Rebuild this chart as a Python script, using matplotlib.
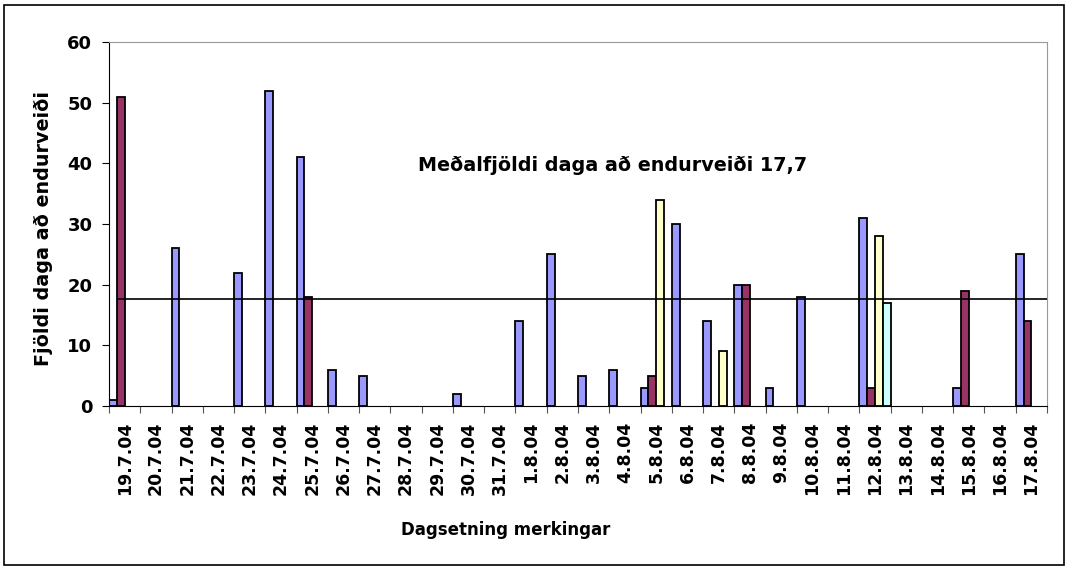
import numpy as np
import matplotlib
matplotlib.use("Agg")
import matplotlib.pyplot as plt
from matplotlib.patches import Rectangle

dates = ["19.7.04", "20.7.04", "21.7.04", "22.7.04", "23.7.04", "24.7.04",
         "25.7.04", "26.7.04", "27.7.04", "28.7.04", "29.7.04", "30.7.04",
         "31.7.04", "1.8.04", "2.8.04", "3.8.04", "4.8.04", "5.8.04",
         "6.8.04", "7.8.04", "8.8.04", "9.8.04", "10.8.04", "11.8.04",
         "12.8.04", "13.8.04", "14.8.04", "15.8.04", "16.8.04", "17.8.04"]

# four recapture series per tagging date (0 = no bar)
series1 = [1, 0, 26, 0, 22, 52, 41, 6, 5, 0, 0, 2, 0, 14, 25, 5, 6, 3,
           30, 14, 20, 3, 18, 0, 31, 0, 0, 3, 0, 25]
series2 = [51, 0, 0, 0, 0, 0, 18, 0, 0, 0, 0, 0, 0, 0, 0, 0, 0, 5,
           0, 0, 20, 0, 0, 0, 3, 0, 0, 19, 0, 14]
series3 = [0, 0, 0, 0, 0, 0, 0, 0, 0, 0, 0, 0, 0, 0, 0, 0, 0, 34,
           0, 9, 0, 0, 0, 0, 28, 0, 0, 0, 0, 0]
series4 = [0, 0, 0, 0, 0, 0, 0, 0, 0, 0, 0, 0, 0, 0, 0, 0, 0, 0,
           0, 0, 0, 0, 0, 0, 17, 0, 0, 0, 0, 0]

mean_days = 17.7

plt.rcParams['font.family'] = ['DejaVu Sans']

fig = plt.figure(figsize=(10.69, 5.69), dpi=100)
ax = fig.add_axes([109 / 1069, 1 - 406 / 569, 938 / 1069, 364 / 569])

x = np.arange(len(dates))
w = 0.25
colors = ["#9999FF", "#993366", "#FFFFCC", "#CCFFFF"]
for k, vals in enumerate([series1, series2, series3, series4]):
    v = np.array(vals, dtype=float)
    m = v > 0
    ax.bar(x[m] - 0.5 + w * k, v[m], width=w, align="edge",
           color=colors[k], edgecolor="black", linewidth=1.3, zorder=2)

ax.plot([-0.2, len(dates) - 0.5], [mean_days, mean_days], color="black",
        linewidth=1.2, zorder=3)
ax.text(15.6, 39.7, "Meðalfjöldi daga að endurveiði 17,7", ha="center",
        va="center", fontsize=13.8, fontweight="bold")

ax.set_xlim(-0.5, len(dates) - 0.5)
ax.set_ylim(0, 60)
ax.set_yticks(range(0, 61, 10))
ax.set_yticklabels([str(t) for t in range(0, 61, 10)], fontsize=13,
                   fontweight="bold")
ax.set_xticks(np.arange(len(dates) + 1) - 0.5)
ax.set_xticklabels([])
ax.set_xticks(x, minor=True)
ax.set_xticklabels(dates, minor=True, rotation=90, fontsize=12.5,
                   fontweight="bold")
ax.tick_params(axis="x", which="minor", length=0, pad=11)
ax.tick_params(axis="x", which="major", length=5, direction="out",
               color="#555555")
ax.tick_params(axis="y", length=5, direction="out", pad=7)

for s in ["top", "right"]:
    ax.spines[s].set_color("#999999")
ax.spines["left"].set_color("black")
ax.spines["bottom"].set_color("black")

fig.text(506 / 1069, 1 - 530 / 569, "Dagsetning merkingar", ha="center",
         va="center", fontsize=12, fontweight="bold")
fig.text(44 / 1069, 1 - 228 / 569, "Fjöldi daga að endurveiði", ha="center",
         va="center", rotation=90, fontsize=13.8, fontweight="bold")

fig.patches.append(Rectangle((4 / 1069, 4 / 569), 1060 / 1069, 560 / 569,
                             transform=fig.transFigure, fill=False,
                             edgecolor="black", linewidth=1.2))

fig.savefig("out.png", dpi=100)
